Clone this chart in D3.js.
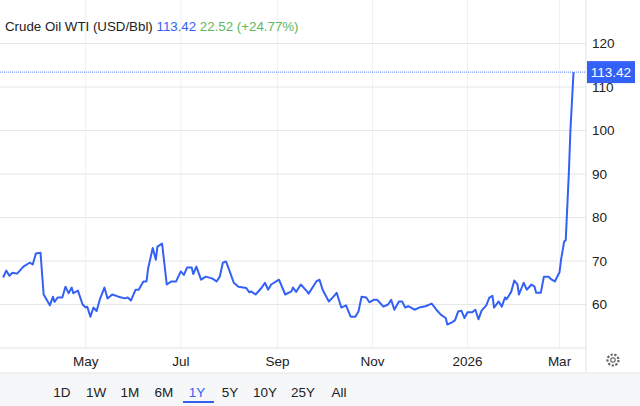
<!DOCTYPE html>
<html><head><meta charset="utf-8">
<script src="https://cdn.jsdelivr.net/npm/d3@7"></script>
<style>body{margin:0;background:#fff;font-family:"Liberation Sans",Arial,sans-serif;}</style>
</head><body><svg id="c" width="640" height="406"></svg>
<script>
const dates = ["2025-03-09","2025-03-11","2025-03-13","2025-03-15","2025-03-18","2025-03-22","2025-03-26","2025-03-28","2025-03-30","2025-04-02","2025-04-04","2025-04-08","2025-04-10","2025-04-11","2025-04-13","2025-04-16","2025-04-18","2025-04-20","2025-04-22","2025-04-23","2025-04-26","2025-04-29","2025-05-01","2025-05-02","2025-05-04","2025-05-06","2025-05-08","2025-05-10","2025-05-13","2025-05-15","2025-05-18","2025-05-22","2025-05-26","2025-05-28","2025-05-30","2025-06-02","2025-06-04","2025-06-07","2025-06-09","2025-06-10","2025-06-13","2025-06-15","2025-06-16","2025-06-19","2025-06-22","2025-06-25","2025-06-28","2025-07-01","2025-07-03","2025-07-05","2025-07-08","2025-07-09","2025-07-11","2025-07-14","2025-07-17","2025-07-21","2025-07-24","2025-07-26","2025-07-28","2025-07-30","2025-08-01","2025-08-04","2025-08-07","2025-08-12","2025-08-14","2025-08-15","2025-08-18","2025-08-22","2025-08-24","2025-08-26","2025-08-28","2025-09-02","2025-09-06","2025-09-10","2025-09-11","2025-09-13","2025-09-16","2025-09-20","2025-09-21","2025-09-26","2025-09-28","2025-09-30","2025-10-04","2025-10-07","2025-10-09","2025-10-12","2025-10-15","2025-10-18","2025-10-21","2025-10-23","2025-10-25","2025-10-28","2025-10-30","2025-11-02","2025-11-04","2025-11-08","2025-11-11","2025-11-13","2025-11-15","2025-11-18","2025-11-20","2025-11-22","2025-11-24","2025-11-28","2025-12-01","2025-12-05","2025-12-09","2025-12-12","2025-12-15","2025-12-18","2025-12-19","2025-12-22","2025-12-24","2025-12-26","2025-12-28","2025-12-30","2026-01-01","2026-01-04","2026-01-06","2026-01-08","2026-01-10","2026-01-13","2026-01-15","2026-01-17","2026-01-18","2026-01-21","2026-01-23","2026-01-25","2026-01-26","2026-01-29","2026-01-31","2026-02-02","2026-02-03","2026-02-06","2026-02-08","2026-02-11","2026-02-13","2026-02-14","2026-02-17","2026-02-19","2026-02-22","2026-02-24","2026-02-26","2026-03-01","2026-03-02","2026-03-04","2026-03-05","2026-03-07","2026-03-08","2026-03-10"];
const prices = [66.2,67.8,66.6,67.3,67.1,68.7,69.6,69.2,71.7,71.9,62.3,59.8,61.8,60.6,61.6,61.6,64.1,62.6,63.9,62.6,63.2,60,59.3,59.5,57.2,59.3,58.5,61.1,63.9,61.4,62.3,61.8,61.4,61.6,60.9,63.4,63.4,65.3,65.3,68.2,73,70.3,73.3,74,64.6,65.3,65.3,67.6,66.8,68.5,68.5,67,68.7,65.7,66.4,66,65.3,66.4,69.6,69.9,68,65,64.1,63.8,62.8,63,62.3,63.9,65,63.4,64.6,65.7,62.3,63,63.9,62.9,64.6,63,62.5,65.3,65.7,63.4,60.7,61.8,62.7,59.3,59.8,57.2,57.2,58.4,61.8,61.6,60.5,61.1,61.1,59.5,60,61.1,58.8,60.7,60.7,59.3,59.6,58.8,59.3,59.6,60.2,58.8,57.6,56.9,55.4,55.9,56.4,58.4,58.6,56.9,58.2,58.2,58.8,56.6,58.6,59.8,61.6,62,59.3,60.7,59.5,61.6,61.2,62.9,65.5,64.6,62.3,65,63.4,64.6,64.1,62.7,62.7,66.4,66.4,65.7,65.3,67.4,70.3,74.5,74.8,90.3,100,113.42];
const yTicks = [60,70,80,90,100,110,120];
const xTickDates = ["2025-05-01","2025-07-01","2025-09-01","2025-11-01","2026-01-01","2026-03-01"];
const xTickLabels = ["May","Jul","Sep","Nov","2026","Mar"];
const ranges = ["1D","1W","1M","6M","1Y","5Y","10Y","25Y","All"];
const rangeX = [62,96,130,164,197,230,265,303,339];
const title = "Crude Oil WTI (USD/Bbl)", last = "113.42", change = "22.52 (+24.77%)";

const p = d3.timeParse("%Y-%m-%d");
const data = dates.map((d,i)=>({d:p(d),v:prices[i]}));
const svg = d3.select("#c");
const W = 586, B = 348;
const x = d3.scaleTime().domain([p("2025-03-07"), p("2026-03-18")]).range([0, W]);
const y = d3.scaleLinear().domain([50,130]).range([B,0]);
const blue = "#3461f5";

svg.append("g").selectAll("line").data(xTickDates).join("line")
  .attr("x1",d=>x(p(d))).attr("x2",d=>x(p(d))).attr("y1",0).attr("y2",B)
  .attr("stroke","#eef1f5");
svg.append("g").selectAll("line").data(yTicks).join("line")
  .attr("x1",0).attr("x2",W).attr("y1",d=>y(d)).attr("y2",d=>y(d))
  .attr("stroke","#e6e6e6");
svg.append("line").attr("x1",0).attr("x2",W).attr("y1",B).attr("y2",B).attr("stroke","#e3e3e3");
svg.append("line").attr("x1",W).attr("x2",W).attr("y1",0).attr("y2",372).attr("stroke","#e3e3e3");

svg.append("g").selectAll("text").data(yTicks).join("text")
  .attr("x",592).attr("y",d=>y(d)).attr("dy","0.35em")
  .attr("font-size",13.5).attr("fill","#222").text(d=>d);
svg.append("g").selectAll("text").data(xTickDates).join("text")
  .attr("x",d=>x(p(d))).attr("y",366).attr("text-anchor","middle")
  .attr("font-size",13.5).attr("fill","#222").text((d,i)=>xTickLabels[i]);

const lv = prices[prices.length-1];
svg.append("line").attr("x1",0).attr("x2",W).attr("y1",y(lv)).attr("y2",y(lv))
  .attr("stroke",blue).attr("stroke-width",1).attr("stroke-dasharray","1,1").attr("opacity",0.8);

svg.append("path").datum(data).attr("fill","none").attr("stroke",blue).attr("stroke-width",2)
  .attr("stroke-linejoin","round")
  .attr("d",d3.line().x(d=>x(d.d)).y(d=>y(d.v)));

svg.append("rect").attr("x",587).attr("y",y(lv)-11).attr("width",48).attr("height",22).attr("fill",blue);
svg.append("text").attr("x",611).attr("y",y(lv)).attr("dy","0.35em").attr("text-anchor","middle")
  .attr("font-size",13.5).attr("fill","#fff").text(last);

const t = svg.append("text").attr("x",5).attr("y",31).attr("font-size",13.3);
t.append("tspan").attr("fill","#222").text(title+" ");
t.append("tspan").attr("fill",blue).text(last+"  ");
t.append("tspan").attr("fill","#5cb85c").text(change);

const g = svg.append("g").attr("transform","translate(613,360)");
g.append("circle").attr("r",5.5).attr("fill","none").attr("stroke","#666").attr("stroke-width",2.2).attr("stroke-dasharray","2.2,1.6");
g.append("circle").attr("r",2.2).attr("fill","none").attr("stroke","#666").attr("stroke-width",1.2);

svg.append("rect").attr("x",0).attr("y",373).attr("width",640).attr("height",33).attr("fill","#f6f7f9");
svg.append("line").attr("x1",0).attr("x2",640).attr("y1",373).attr("y2",373).attr("stroke","#e6e6e6");
svg.append("g").selectAll("text").data(ranges).join("text")
  .attr("x",(d,i)=>rangeX[i]).attr("y",392).attr("dy","0.35em").attr("text-anchor","middle")
  .attr("font-size",13.5).attr("fill",d=>d==="1Y"?blue:"#222").text(d=>d);
svg.append("line").attr("x1",183).attr("x2",214).attr("y1",402).attr("y2",402).attr("stroke",blue).attr("stroke-width",2);
</script></body></html>
